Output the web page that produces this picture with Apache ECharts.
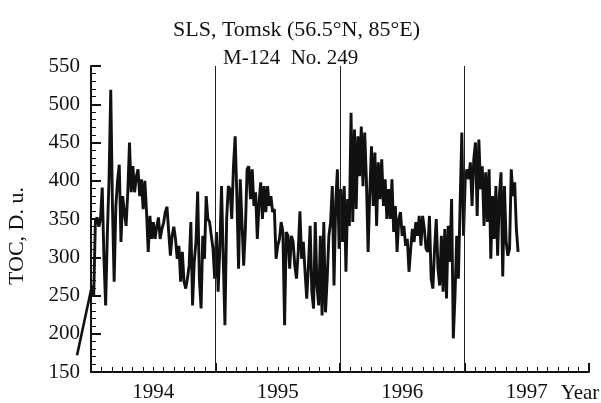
<!DOCTYPE html>
<html>
<head>
<meta charset="utf-8">
<script src="https://cdn.jsdelivr.net/npm/echarts@6/dist/echarts.min.js"></script>
<style>
  html, body { margin: 0; padding: 0; background: #fff; }
  #main { width: 601px; height: 403px; }
</style>
</head>
<body>
<div id="main"></div>
<script>
// total ozone (one value about every 5 days)
const startYear = 1994.008
const stepYears = 5 / 365.25
const strayPoint = [1993.888, 172]

const toc1994 = [263, 250, 348, 352, 340, 350, 391, 300, 237, 330, 402, 519, 367, 268, 367, 400, 421, 320, 380, 359,
  341, 385, 450, 385, 419, 385, 405, 415, 380, 402, 363, 400, 359, 307, 354, 324, 346, 324, 340, 352,
  324, 337, 345, 359, 366, 333, 302, 328, 340, 324, 298, 315, 268, 307, 268, 259]
const toc1995 = [272, 289, 346, 237, 294, 320, 386, 272, 233, 328, 298, 380, 350, 346, 328, 311, 272, 333, 255, 311,
  393, 298, 211, 350, 393, 389, 350, 419, 458, 380, 285, 402, 346, 289, 337, 415, 419, 376, 415, 367,
  385, 324, 371, 398, 350, 393, 359, 393, 367, 380, 359, 363, 298, 315, 324, 346, 333, 211, 333]
const toc1996a = [328, 285, 328, 320, 289, 272, 307, 360, 298, 320, 281, 246, 289, 341, 255, 233, 346, 263, 237, 328,
  224, 346, 228, 272, 328, 346, 393, 263, 371, 415, 311, 389, 320, 393, 281, 376, 341, 489, 346, 467,
  363, 458, 406, 471, 393, 463, 402, 307, 385, 445, 367, 437, 341, 424, 376, 428, 367, 402, 350]
const toc1996b = [389, 350, 402, 333, 367, 307, 350, 359, 328, 341, 315, 324, 281, 311, 337, 320, 346, 328, 354, 315,
  354, 337, 311, 307, 354, 272, 259, 311, 350, 285, 263, 328, 255, 337, 246, 341, 294, 376, 194, 250,
  328, 272, 371, 463]
const toc1997 = [328, 402, 415, 402, 424, 367, 428, 450, 354, 454, 389, 419, 341, 411, 346, 415, 298, 380, 324, 393,
  302, 380, 411, 275, 393, 320, 302, 311, 415, 380, 398, 337, 307]

const yearLabels = ['1994', '1995', '1996', '1997']
const yearLines = [1995, 1996, 1997]

const tocValues = toc1994.concat(toc1995, toc1996a, toc1996b, toc1997)
let seriesData = []
tocValues.forEach(function(v, i){
  seriesData.push([startYear + i * stepYears, v])
})

const serif = "'Liberation Serif', 'DejaVu Serif', serif"
const ink = '#111'

const yName = { type: 'text', x: 17, y: 236, rotation: Math.PI / 2,
  style: { text: 'TOC, D. u.', fontFamily: serif, fontSize: 22, fill: ink,
    textAlign: 'center', textVerticalAlign: 'middle', align: 'center', verticalAlign: 'middle' } }
const xName = { type: 'text', x: 580, y: 393,
  style: { text: 'Year', fontFamily: serif, fontSize: 21, fill: ink,
    textAlign: 'center', textVerticalAlign: 'middle', align: 'center', verticalAlign: 'middle' } }

var myChart = echarts.init(document.getElementById('main'))
var option = {
  animation: false,
  backgroundColor: '#fff',
  title: [
    { text: 'SLS, Tomsk (56.5°N, 85°E)', left: 168, top: 14,
      textStyle: { fontFamily: serif, fontSize: 22, fontWeight: 'normal', color: ink } },
    { text: 'M-124  No. 249', left: 218, top: 43,
      textStyle: { fontFamily: serif, fontSize: 21, fontWeight: 'normal', color: ink } }
  ],
  grid: { left: 91, right: 12, top: 66, bottom: 29 },
  xAxis: [
    {
      type: 'value', min: 1994, max: 1998, interval: 1, position: 'bottom',
      axisLine: { lineStyle: { color: ink, width: 2 } },
      axisTick: { inside: true, length: 9, lineStyle: { color: ink, width: 2 } },
      minorTick: { show: true, splitNumber: 12, length: 5, lineStyle: { color: ink, width: 1 } },
      axisLabel: { show: false },
      splitLine: { show: false }
    },
    {
      type: 'value', min: 1994, max: 1998, interval: 0.5, position: 'bottom',
      axisLine: { show: false }, axisTick: { show: false }, splitLine: { show: false },
      axisLabel: {
        margin: 10, fontFamily: serif, fontSize: 21, color: ink,
        formatter: function(v){
          if (Math.abs(v % 1 - 0.5) > 0.01) return ''
          return yearLabels[Math.floor(v) - 1994] || ''
        }
      }
    }
  ],
  yAxis: {
    type: 'value', min: 150, max: 550, interval: 50,
    axisLine: { show: true, lineStyle: { color: ink, width: 2 } },
    axisTick: { show: true, inside: true, length: 10, lineStyle: { color: ink, width: 2 } },
    minorTick: { show: true, splitNumber: 5, length: 5, lineStyle: { color: ink, width: 1 } },
    axisLabel: { margin: 11, fontFamily: serif, fontSize: 21, color: ink },
    splitLine: { show: false }
  },
  graphic: [yName, xName],
  series: [{
    type: 'line',
    xAxisIndex: 0,
    data: seriesData,
    showSymbol: false,
    symbol: 'none',
    lineStyle: { color: ink, width: 2.9 },
    markLine: {
      silent: true,
      symbol: 'none',
      label: { show: false },
      lineStyle: { color: '#222', width: 1, type: 'solid' },
      data: yearLines.map(function(y){ return { xAxis: y } })
    }
  }]
}
myChart.setOption(option)

// the record starts with a point left of the axis; draw that lead-in through the chart's own scales
const finder = { xAxisIndex: 0, yAxisIndex: 0 }
const p0 = myChart.convertToPixel(finder, strayPoint)
const p1 = myChart.convertToPixel(finder, seriesData[0])
myChart.setOption({
  graphic: [
    yName,
    xName,
    { type: 'polyline', shape: { points: [p0, p1] },
      style: { stroke: ink, lineWidth: 2.6, fill: null } }
  ]
})
</script>
</body>
</html>
